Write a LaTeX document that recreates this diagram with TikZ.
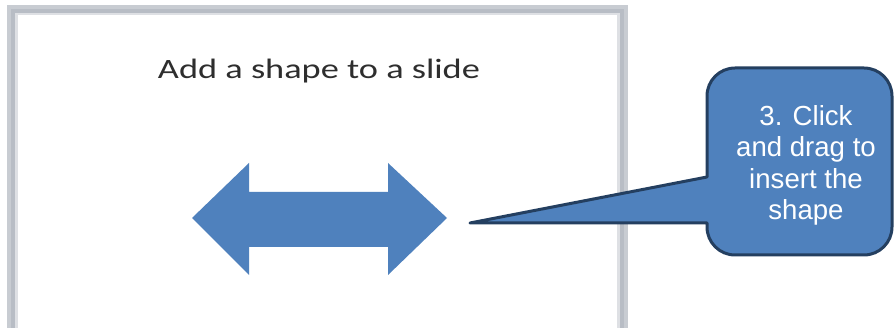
\documentclass[tikz,border=0pt]{standalone}
\usepackage{fontspec}
\setmainfont{Liberation Sans}
\newfontfamily\titlefont{Carlito}
\definecolor{shapeblue}{HTML}{4F81BD}
\definecolor{navy}{HTML}{243F60}
\definecolor{frameout}{HTML}{C8CCD2}
\definecolor{framein}{HTML}{B8BDC5}
\definecolor{titlegray}{HTML}{2E2E2E}
\tikzset{
  calloutbox/.style={fill=shapeblue, draw=navy, line width=3pt, line join=round},
  calloutlabel/.style={text=white, align=center, inner sep=0pt, font=\fontsize{27.6}{31.5}\selectfont},
  slidetitle/.style={text=titlegray, inner sep=0pt, font=\titlefont\fontsize{28}{30}\selectfont},
}
\begin{document}
\begin{tikzpicture}[x=1pt,y=1pt]
\useasboundingbox (0,0) rectangle (895,-328);
% slide frame
\fill[frameout] (7,-5) rectangle (628,-340);
\fill[framein] (11,-9) rectangle (624,-340);
\fill[frameout!60!white] (15,-13) rectangle (620,-340);
\fill[white] (18,-15) rectangle (617,-340);
% title
\node[slidetitle, anchor=base] (title) at (319,-79) {\resizebox{322pt}{\height}{Add a shape to a slide}};
% double arrow
\fill[shapeblue] (192,-218) -- (249,-163) -- (249,-192) -- (388,-192) -- (388,-163)
  -- (447,-218) -- (388,-275) -- (388,-247) -- (249,-247) -- (249,-275) -- cycle;
% callout
\coordinate (tip) at (470,-223);
\draw[calloutbox] (707,-177) -- (707,-96) arc[start angle=180, end angle=90, radius=28pt]
  -- (864,-68) arc[start angle=90, end angle=0, radius=28pt]
  -- (892,-227) arc[start angle=0, end angle=-90, radius=28pt]
  -- (735,-255) arc[start angle=270, end angle=180, radius=28pt]
  -- (707,-223) -- (tip) -- cycle;
\node[calloutlabel, anchor=north] (label) at (806,-105) {3. Click\\and drag to\\insert the\\shape};
\end{tikzpicture}
\end{document}
